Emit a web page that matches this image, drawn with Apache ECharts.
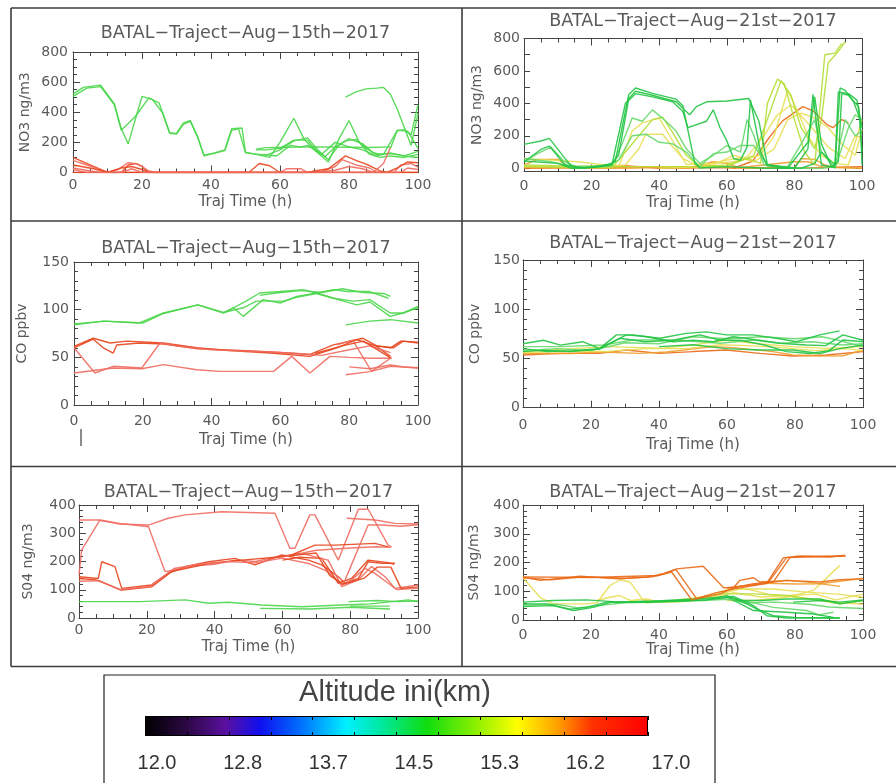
<!DOCTYPE html>
<html>
<head>
<meta charset="utf-8">
<title>BATAL trajectories</title>
<script src="https://cdn.jsdelivr.net/npm/echarts@6/dist/echarts.min.js"></script>
<style>
  html, body { margin: 0; padding: 0; background: #fff; }
  #chart { width: 896px; height: 783px; }
</style>
</head>
<body>
<div id="chart"></div>
<script>
// ---- data: [hour, value] vertices of each back-trajectory ----

// NO3, Aug 15
const no3a_g1 = [[0,520],[3,565],[8,580],[12,455],[14,290],[16,190],[20,505],[23,485],[26,395],[28,265],[30,260],[32,330],[34,345],[36,240],[38,115],[41,130],[44,150],[46,290],[49,295],[50,135],[53,120],[57,100],[60,200],[64,360],[67,220],[70,150],[74,70],[77,220],[80,345],[83,200],[86,120],[89,100],[92,110],[96,100],[100,120]];
const no3a_g2 = [[0,505],[4,560],[8,570],[12,450],[14,280],[18,370],[22,495],[25,460],[28,260],[30,255],[32,320],[34,340],[36,245],[38,110],[44,145],[46,280],[48,290],[50,130],[56,115],[60,150],[64,210],[68,230],[71,150],[74,85],[77,180],[80,225],[84,190],[87,130],[90,120],[94,280],[97,275],[100,160]];
const no3a_g3 = [[53,155],[56,165],[62,168],[70,170],[80,168],[86,166],[92,170]];
const no3a_g4 = [[53,150],[56,150],[60,160],[64,215],[68,215],[70,160],[73,105],[76,170],[79,210],[82,220],[85,160],[88,120],[92,125],[96,110],[100,140]];
const no3a_g5 = [[55,120],[59,110],[63,180],[66,170],[68,180],[72,120],[76,200],[80,170],[84,150],[88,110],[92,130],[96,110],[100,100]];
const no3a_g6 = [[79,500],[82,535],[85,555],[88,560],[90,565],[92,520],[94,420],[96,300],[98,180],[100,390]];
const no3a_g7 = [[92,160],[94,280],[96,285],[98,250],[100,450]];
const no3a_r1 = [[0,100],[3,70],[6,40],[9,10],[11,0],[14,0],[16,50],[18,60],[20,40],[22,0],[51,0],[54,60],[57,45],[60,0],[100,0]];
const no3a_r2 = [[0,80],[4,50],[8,20],[10,0],[13,20],[16,65],[19,55],[22,10],[24,0],[60,0],[62,25],[66,25],[68,0],[72,5],[76,40],[78,85],[82,50],[86,30],[88,0],[93,0],[95,50],[98,60],[100,35]];
const no3a_r3 = [[0,50],[6,25],[10,0],[14,30],[17,40],[20,20],[22,0],[68,0],[70,10],[74,25],[79,110],[82,80],[85,55],[89,10],[91,0],[94,30],[97,70],[100,65]];
const no3a_r4 = [[0,30],[5,10],[8,0],[70,0],[76,15],[80,40],[84,25],[87,0],[90,60],[92,165]];
const no3a_r5 = [[0,0],[100,0]];
const no3a_r6 = [[0,20],[4,0],[14,0],[17,25],[20,0],[95,0],[97,30],[100,20]];

// NO3, Aug 21
const no3b_g1 = [[0,147],[5,168],[7.5,184],[12,64],[14,12],[18,2],[25,23],[27,43],[31,455],[33,495],[38,462],[45,426],[47,385],[50.5,33],[52,2],[60,10],[66,5],[72,0],[80,0],[84,120],[85.5,455],[88,20],[92,5],[93.5,495],[95,480],[97.5,410],[99.5,300],[100,20]];
const no3b_g2 = [[0,40],[5,116],[7.5,137],[12,23],[16,0],[22,10],[26,30],[28,80],[31,430],[33,475],[38,450],[45,410],[47,370],[49,330],[51,380],[54,410],[60,415],[66.5,430],[69.5,290],[72,23],[76,10],[82,0],[86,30],[88,100],[92,20],[93,470],[96,460],[98.5,420],[100,250]];
const no3b_g3 = [[0,45],[10,30],[14,0],[20,5],[26,20],[30,400],[33,460],[38,440],[44,410],[47,350],[48.5,250],[54,290],[56,360],[58,250],[60,170],[62,60],[64,50],[66,130],[67,420],[70,100],[72,15],[78,0],[84,160],[86,440],[88,150],[91,10],[93,40],[94,460],[96,450],[99,380],[100,100]];
const no3b_g4 = [[0,60],[8,40],[14,10],[26,15],[29,150],[32,310],[35,290],[38,360],[42,290],[45,230],[48,120],[52,30],[56,80],[60,140],[64,100],[66,300],[68,200],[71,20],[78,10],[82,150],[86,300],[88,100],[92,0],[96,250],[98,330],[100,300]];
const no3b_g5 = [[0,40],[4,90],[8,130],[12,40],[16,5],[24,10],[28,50],[32,200],[36,210],[40,160],[44,150],[48,100],[52,10],[56,90],[60,100],[64,140],[68,140],[72,20],[80,0],[88,0],[92,10],[95,300],[98,200],[100,230]];
const no3b_yg1 = [[0,10],[14,5],[26,5],[30,100],[34,200],[38,300],[41,315],[44,220],[48,80],[52,10],[60,20],[66,60],[70,30],[72,400],[75,550],[77,520],[80,300],[83,100],[86,20],[89,700],[92,710],[94,770]];
const no3b_yg2 = [[0,20],[20,10],[40,10],[60,10],[68,80],[72,300],[76,540],[79,450],[82,250],[86,120],[88,300],[90,650],[93,720],[95,780]];
const no3b_y1 = [[0,60],[8,50],[16,40],[28,10],[32,230],[35,280],[40,310],[44,168],[48,23],[56,30],[62,40],[70,80],[74,200],[78,480],[81,350],[84,200],[88,80],[92,30],[96,20],[100,300]];
const no3b_y2 = [[0,10],[14,10],[30,20],[34,120],[36,210],[41,210],[43,157],[47,60],[52,10],[60,50],[66,70],[71,200],[75,330],[79,390],[83,300],[86,230],[90,130],[95,60],[98,200],[100,190]];
const no3b_y3 = [[40,0],[55,10],[62,80],[68,40],[74,120],[78,300],[82,340],[86,310],[90,250],[94,150],[98,80],[100,240]];
const no3b_o1 = [[0,20],[4,55],[10,55],[13,10],[20,5],[30,0],[50,10],[56,40],[60,30],[64,0],[80,5],[82,60],[86,55],[89,20],[92,5],[100,0]];
const no3b_o2 = [[62,0],[67.6,43],[72.5,188],[76.5,292],[82.5,380],[85.5,354],[89.5,271],[91.4,250],[94,300],[96,280]];
const no3b_o3 = [[0,0],[20,5],[30,15],[40,0],[60,5],[80,0],[100,10]];
const no3b_o4 = [[0,5],[25,0],[34,10],[48,0],[54,20],[62,0],[80,40],[84,40],[88,10],[100,0]];

// CO, Aug 15
const co15_g1 = [[0,84],[8.5,88],[19,86],[26,96.5],[36,105],[43.5,96.5],[50,109],[54,117.5],[60,119],[66.7,121],[70.5,117.5],[75.4,121],[79.3,119],[86,119],[91.4,112]];
const co15_g2 = [[0,85],[9,88],[20,86],[26,96],[36,105],[43.5,97],[46.3,102],[49.2,93],[55,110.5],[60,107],[64.7,114],[70.5,117.5],[78.3,109],[82.2,105],[86,108],[91.9,93],[95.7,96.5],[100,103.5]];
const co15_g3 = [[43.5,97],[49.2,102],[53,109],[61,109],[64.7,113],[70.5,117],[75.4,112],[81.2,109],[86,110.5],[91.9,96.5],[95.7,96.5],[100,102]];
const co15_g4 = [[79,84],[86,88],[92,89.5],[100,86]];
const co15_g5 = [[54,115],[60,118],[66,120],[72,118],[78,122],[84,118],[90,117],[92,114]];
const co15_r1 = [[0,61.5],[5.6,70],[10.5,65],[15.3,67],[26,65],[35.7,60],[45,57],[57,54.5],[68.6,51],[76.4,60],[82.2,68.5],[88,61.5],[92,51]];
const co15_r2 = [[0,60],[5.6,69],[8.5,60],[11.4,54.5],[12.4,63],[19,65],[26,64],[36,59],[50,57],[60,55],[68.6,53],[75.4,63],[84,70],[88,62],[92.8,60],[95.7,67],[100,65]];
const co15_r3 = [[0,60],[6.1,33.6],[11.4,40.6],[19.7,38.8],[25,65],[30,62],[40,58],[55,56],[65,54],[72,52],[80,58],[86,62],[92,55]];
const co15_r4 = [[0,33.6],[11.4,38.8],[19.7,38],[26,42.3],[35.7,37],[42.4,35.3],[58,35.3],[63.3,51],[68.6,33.6],[74.4,51],[80,50],[86,49],[92,49]];
const co15_r5 = [[79,31.8],[86,35],[92,40.6],[100,38.8]];
const co15_r6 = [[76.4,63],[81,68],[86.5,35.3],[92,49]];
const co15_r7 = [[70,54],[78,62],[84.1,67],[92.3,49]];
const co15_r8 = [[80,40],[86,38],[92,42],[96,40],[100,39]];
const co15_r9 = [[88,62],[92,60],[95,67],[100,66]];

// CO, Aug 21
const co21_g1 = [[0,65],[6,68.5],[11,63.5],[17.6,67],[22.5,60],[27.5,74],[32.4,74],[40.2,70.5],[48,75.5],[53.9,77],[59.8,74],[67.6,74],[74.5,70.5],[80.4,67],[87.3,74],[93.1,78]];
const co21_g2 = [[0,57],[6,58.5],[14,57],[22.5,59.5],[30.4,74],[36.3,72],[44.1,67],[50,68.5],[56,67],[61.8,72],[69.6,68.5],[75.5,65.4],[83.3,63.7],[89,63],[94.1,74],[100,68.5]];
const co21_g3 = [[0,60],[7,57],[15,58],[22.5,60],[28.4,70.5],[36,67],[44,68.5],[52,74],[58,68.5],[64,68.5],[71,63.7],[77.5,57],[84.3,55],[90,58],[94.1,68.7],[100,67]];
const co21_g4 = [[40,62],[50,64],[59.8,60],[69.6,58.6],[79.4,58.6],[87.3,55],[93.1,60],[100,63.7]];
const co21_lg1 = [[0,62],[11,62],[23.5,63.7],[32.4,68.7],[45,68.7],[58,65.4],[67.6,68.7],[75.5,65.4],[85,67],[94,63.7],[100,65]];
const co21_lg2 = [[0,58],[10,60],[20,58],[30,66],[40,65],[50,72],[60,70],[70,72],[80,70],[88,72],[92,69],[100,62]];
const co21_y1 = [[0,57],[15.7,60.3],[25.5,62],[40.2,60.3],[50,63.7],[59.8,68.7],[67.6,65.4],[79.4,62],[89.2,60.3],[100,62]];
const co21_y2 = [[0,56],[12,57],[24,57],[36,60],[48,60],[58,64],[66,63],[76,61],[86,58],[95,60],[100,58]];
const co21_o1 = [[0,53.5],[10.8,55.2],[22.5,55.2],[30.4,58.6],[40.2,55.2],[50,57],[59.8,58.6],[69.6,55.2],[79.4,52.5],[89.2,53.5],[100,57]];
const co21_o2 = [[0,55],[14,55],[22.5,56.5],[34.3,55.2],[42.2,56.5],[55.9,62],[61.8,61],[73.5,57],[79.4,53.5],[87.3,52.5],[94.1,52.8],[100,58.6]];

// SO4, Aug 15
const so15_r1 = [[0,347],[5.7,347],[11.6,333],[20.5,329],[26.3,353],[31.3,365],[42.1,376],[57.8,371],[62.2,247],[63.7,247],[68.1,365],[69.6,365],[76.5,205],[82.4,385],[85.3,385],[91.2,258],[92.2,252]];
const so15_r2 = [[0,146],[5.7,140],[6.7,199],[10.6,182],[12.6,105],[21.4,117],[26.3,158],[31.3,182],[38.2,199],[46,211],[51.9,188],[59.8,223],[67.7,205],[71.6,188],[76.5,146],[78.5,123],[82.4,140],[85.3,199],[89.3,194],[93.2,194]];
const so15_r3 = [[0,152],[0.8,241],[6.2,347],[12,335],[20.5,323],[25.4,164],[28,170],[34,185],[40,190],[46,205],[52,200],[58,215],[62,222],[66,230],[70,240],[80,248],[88,252],[92,250]];
const so15_r4 = [[0,140],[5,135],[12.6,99],[21.4,110],[27.3,164],[38.2,193],[48,205],[59.8,217],[62.7,223],[69.6,258],[75.5,258],[87.3,264],[91.2,252]];
const so15_r5 = [[0,130],[6,132],[12,100],[21,112],[28,175],[35,190],[44,200],[52,195],[60,212],[67.7,193],[73.5,164],[77.5,117],[80.4,135],[84.4,176],[87.3,158],[91.2,123],[93.7,101],[100,105]];
const so15_r6 = [[60,205],[65,215],[71.6,211],[76.5,123],[80.4,140],[85.3,205],[91.2,196],[93,190]];
const so15_r7 = [[61,218],[66,228],[73.5,205],[77.5,111],[82.4,135],[86.3,182],[90.3,146],[93.2,105],[100,117]];
const so15_r8 = [[79,353],[87.3,347],[93.2,335],[100,333]];
const so15_r9 = [[78.5,135],[85.3,329],[89.3,329],[95,325],[100,330]];
const so15_r10 = [[62,220],[70,230],[74,150],[78,120],[84,140],[88,180],[92,180],[95,105],[100,110]];
const so15_g1 = [[0,58],[18,58],[31.3,64],[38.2,52],[44,56],[53.9,46],[65.7,40],[77.5,46],[86,50],[97.1,64],[100,58]];
const so15_g2 = [[53.4,34],[68,32],[80,38],[91.7,32]];
const so15_g3 = [[79.5,58],[88,62],[94,58],[100,60]];
const so15_g4 = [[80,42],[91.7,42]];

// SO4, Aug 21
const so21_o1 = [[0,149],[5,138],[16.8,152],[28.5,143],[36.4,149],[41.3,161],[45.2,178],[53,187],[59,112],[61.9,112],[63.8,138],[67.8,147],[69.7,132],[73.6,132],[78.5,217],[80.5,222],[90.3,219],[94.7,225]];
const so21_o2 = [[0,147],[8,140],[18,150],[30,145],[38,150],[43.7,167],[49.6,70],[58,91],[61.9,112],[67.8,126],[73.6,132],[77.5,138],[87.4,132],[93,140],[100,143]];
const so21_o3 = [[0,150],[20,148],[40,155],[45,175],[51,75],[57,95],[63,110],[71.7,128],[76.6,217],[82,222],[94,222]];
const so21_o4 = [[60,112],[66,120],[72,128],[77.5,217],[86,220],[95,222]];
const so21_o5 = [[70,132],[77.5,138],[85,130],[93.2,117]];
const so21_lo1 = [[71.7,128],[80,125],[87.4,126],[100,145]];
const so21_y1 = [[0,147],[5,79],[8.9,56],[18.7,56],[21.7,60],[25.6,120],[28.5,140],[31.5,132],[35.4,68],[42,62],[49,65],[54,85],[61.9,112],[67,105],[72,90],[80,80],[88,70],[94,60],[100,55]];
const so21_y2 = [[21.7,68],[25.6,79],[28.5,85],[31.5,68],[36.4,73],[40,62],[48,65],[56,80],[62,95],[70,80],[78,85],[86,90],[92,70],[100,90]];
const so21_y3 = [[60,68],[67.8,68],[77.5,79],[85.4,103],[93.2,190]];
const so21_y4 = [[40,62],[56,85],[63.8,108],[73.6,108],[83.4,97],[93.2,89],[100,79]];
const so21_yg1 = [[36,60],[48,68],[58,91],[67.8,91],[77.5,85],[87.4,68],[93.2,56],[100,68]];
const so21_g1 = [[0,62],[8.9,68],[18.7,70],[28.5,62],[38.3,65],[48.1,68],[54,70],[59.9,85],[63.8,68],[70,68],[77.5,73],[87.4,73],[93.2,56],[100,68]];
const so21_g2 = [[0,56],[7,56],[13.8,38],[18.7,44],[24.6,62],[38,65],[50.1,73],[58,79],[61.9,82],[67.8,50],[71.7,15],[77.5,7],[93.2,7]];
const so21_g3 = [[0,47],[8.9,50],[14.8,33],[20.7,44],[26,62],[38,62],[54,70],[60.9,79],[65.8,56],[69.7,33],[73.6,15],[80,9],[93.2,7]];
const so21_g4 = [[60,80],[67.8,33],[77.5,27],[85.4,21],[91.3,9]];
const so21_g5 = [[79.5,62],[87.4,68],[93.2,62],[100,70]];
const so21_lg1 = [[62,75],[73.6,44],[83.4,33],[87,18],[91.3,27]];
const so21_lg2 = [[0,52],[10,55],[16,42],[22,50],[30,60],[40,62],[50,66],[60,72],[66,60],[74,62],[84,55],[90,45],[100,40]];

// titles, axis names, colorbar labels
const panelTitles = ['BATAL−Traject−Aug−15th−2017', 'BATAL−Traject−Aug−21st−2017'];
const yNames = ['NO3 ng/m3', 'CO ppbv', 'S04 ng/m3'];
const xName = 'Traj Time (h)';
const cbarTitle = 'Altitude ini(km)';
const cbarLabels = ['12.0', '12.8', '13.7', '14.5', '15.3', '16.2', '17.0'];

const COL = {
  g15: '#4ad64a', r15: '#e8441c', p15: '#ef6b60',
  g21: '#22c444', lg21: '#66d86a', yg21: '#b4de36', y21: '#e8df55',
  o21: '#f09c2e', or21: '#ea6a18'
};

const panelLines = [
  [[no3a_g1,'g15'],[no3a_g2,'g15'],[no3a_g3,'g15'],[no3a_g4,'g15'],[no3a_g5,'g15'],[no3a_g6,'g15'],[no3a_g7,'g15'],
   [no3a_r1,'r15'],[no3a_r2,'p15'],[no3a_r3,'r15'],[no3a_r4,'p15'],[no3a_r5,'r15'],[no3a_r6,'p15']],
  [[no3b_o3,'or21'],[no3b_o4,'o21'],[no3b_o1,'o21'],[no3b_o2,'or21'],[no3b_y1,'y21'],[no3b_y2,'y21'],[no3b_y3,'y21'],
   [no3b_yg1,'yg21'],[no3b_yg2,'yg21'],[no3b_g4,'lg21'],[no3b_g5,'lg21'],[no3b_g1,'g21'],[no3b_g2,'g21'],[no3b_g3,'g21']],
  [[co15_g1,'g15'],[co15_g2,'g15'],[co15_g3,'g15'],[co15_g4,'g15'],[co15_g5,'g15'],
   [co15_r1,'r15'],[co15_r2,'r15'],[co15_r3,'p15'],[co15_r4,'p15'],[co15_r5,'p15'],[co15_r6,'p15'],[co15_r7,'r15'],[co15_r8,'p15'],[co15_r9,'r15']],
  [[co21_o1,'or21'],[co21_o2,'o21'],[co21_y1,'y21'],[co21_y2,'y21'],[co21_lg1,'lg21'],[co21_lg2,'lg21'],
   [co21_g4,'g21'],[co21_g3,'g21'],[co21_g2,'g21'],[co21_g1,'g21']],
  [[so15_r1,'p15'],[so15_r2,'r15'],[so15_r3,'p15'],[so15_r4,'r15'],[so15_r5,'p15'],[so15_r6,'r15'],[so15_r7,'p15'],[so15_r8,'p15'],[so15_r9,'p15'],[so15_r10,'r15'],
   [so15_g1,'g15'],[so15_g2,'g15'],[so15_g3,'g15'],[so15_g4,'g15']],
  [[so21_y1,'y21'],[so21_y2,'y21'],[so21_y3,'y21'],[so21_y4,'y21'],[so21_yg1,'yg21'],
   [so21_lg1,'lg21'],[so21_lg2,'lg21'],[so21_g1,'g21'],[so21_g2,'g21'],[so21_g3,'g21'],[so21_g4,'g21'],[so21_g5,'g21'],
   [so21_lo1,'o21'],[so21_o5,'o21'],[so21_o1,'or21'],[so21_o2,'or21'],[so21_o3,'or21'],[so21_o4,'or21']]
];

// ---- layout ----
const FONT = 'DejaVu Sans';
const AX = '#444';
const TX = '#5a5a5a';

// grid box, y range and label spacing for each panel
const layout = [
  { l: 73,  t: 52,   w: 345, h: 120.5, ymin: 0,   ymax: 800, yint: 200, ysplit: 4, lm: 5, xm: 5.5,  xg: 21.7, yg: 41, tx: 245.5, ty: 33 },
  { l: 524, t: 38.5, w: 338, h: 133,   ymin: -20, ymax: 800, yint: 200, ysplit: 2, lm: 4, xm: 8,    xg: 24,   yg: 40, tx: 693,   ty: 21.7 },
  { l: 74,  t: 262,  w: 344, h: 143,   ymin: 0,   ymax: 150, yint: 50,  ysplit: 5, lm: 5, xm: 9.7,  xg: 27.5, yg: 45, tx: 246,   ty: 248.3 },
  { l: 523, t: 260,  w: 340, h: 147.7, ymin: 0,   ymax: 150, yint: 50,  ysplit: 5, lm: 3, xm: 10.3, xg: 29.8, yg: 41, tx: 693,   ty: 243.3 },
  { l: 79,  t: 505,  w: 339, h: 113,   ymin: 0,   ymax: 400, yint: 100, ysplit: 5, lm: 3, xm: 5.7,  xg: 21.2, yg: 44, tx: 248.5, ty: 492.3 },
  { l: 523, t: 505,  w: 340, h: 115,   ymin: 0,   ymax: 400, yint: 100, ysplit: 5, lm: 3, xm: 8,    xg: 20.8, yg: 42, tx: 693,   ty: 492 }
];
const cbar = { l: 145, t: 716, w: 503, h: 20 };
const cbarText = { l: 157, t: 736, w: 514 };

const grids = [];
const xAxes = [];
const yAxes = [];
const series = [];
const graphics = [];

function tickStyle(len) {
  return { show: true, inside: true, length: len, lineStyle: { color: AX, width: 1 } };
}

layout.forEach(function (p, i) {
  grids.push({ left: p.l, top: p.t, width: p.w, height: p.h, containLabel: false });

  const xBase = {
    gridIndex: i, type: 'value', min: 0, max: 100, interval: 20,
    axisLine: { onZero: false, lineStyle: { color: AX, width: 1 } },
    axisTick: tickStyle(7),
    minorTick: { show: true, splitNumber: 4, length: 4, lineStyle: { color: AX } },
    splitLine: { show: false }
  };
  xAxes.push(Object.assign({}, xBase, {
    position: 'bottom',
    axisLabel: { margin: p.xm, color: TX, fontSize: 14, fontFamily: FONT },
    name: xName, nameLocation: 'middle', nameGap: p.xg,
    nameTextStyle: { color: TX, fontSize: 15, fontFamily: FONT }
  }));
  xAxes.push(Object.assign({}, xBase, { position: 'top', axisLabel: { show: false } }));

  const yBase = {
    gridIndex: i, type: 'value', min: p.ymin, max: p.ymax,
    axisLine: { onZero: false, lineStyle: { color: AX, width: 1 } },
    splitLine: { show: false }
  };
  const labelCfg = { margin: p.lm, color: TX, fontSize: 14, fontFamily: FONT };
  if (p.ymin !== 0) {
    // axis starts below zero: place ticks and labels explicitly
    const major = [], minor = [];
    for (let v = 0; v <= p.ymax; v += p.yint) major.push(v);
    for (let v = 0; v <= p.ymax; v += p.yint / p.ysplit) minor.push(v);
    yBase.axisTick = Object.assign(tickStyle(6), { customValues: minor });
    yBase.minorTick = { show: false };
    labelCfg.customValues = major;
  } else {
    yBase.interval = p.yint;
    yBase.axisTick = tickStyle(7);
    yBase.minorTick = { show: true, splitNumber: p.ysplit, length: 4, lineStyle: { color: AX } };
  }

  yAxes.push(Object.assign({}, yBase, {
    position: 'left',
    axisLabel: labelCfg,
    name: yNames[Math.floor(i / 2)], nameLocation: 'middle', nameGap: p.yg, nameRotate: 90,
    nameTextStyle: { color: TX, fontSize: 14, fontFamily: FONT }
  }));
  yAxes.push(Object.assign({}, yBase, { position: 'right', axisLabel: { show: false } }));

  panelLines[i].forEach(function (ln) {
    series.push({
      type: 'line', xAxisIndex: i * 2, yAxisIndex: i * 2,
      data: ln[0], symbol: 'none', silent: true, clip: true,
      lineStyle: { color: COL[ln[1]], width: 1.4, opacity: 0.9 }
    });
  });

  graphics.push({
    type: 'text', x: p.tx, y: p.ty, silent: true,
    style: { text: panelTitles[i % 2], fill: TX, font: '17.5px "' + FONT + '"', align: 'center', verticalAlign: 'middle' }
  });
});

// colour bar: one bar spanning the altitude scale, ticks drawn by two axes
grids.push({ left: cbar.l, top: cbar.t, width: cbar.w, height: cbar.h });
const cbIdx = grids.length - 1;
const cbX = {
  gridIndex: cbIdx, type: 'value', min: 0, max: 12, interval: 1, z: 10,
  axisLine: { show: false }, splitLine: { show: false }, axisLabel: { show: false },
  axisTick: { show: true, inside: true, length: 4, lineStyle: { color: '#000' } }
};
xAxes.push(Object.assign({ position: 'bottom' }, cbX));
xAxes.push(Object.assign({ position: 'top' }, cbX));
yAxes.push({ gridIndex: cbIdx, type: 'category', data: ['alt'], show: false });
series.push({
  type: 'bar', xAxisIndex: xAxes.length - 2, yAxisIndex: yAxes.length - 1,
  data: [12], barWidth: '100%', silent: true,
  itemStyle: {
    borderColor: '#000', borderWidth: 1,
    color: new echarts.graphic.LinearGradient(0, 0, 1, 0, [
      { offset: 0, color: '#000000' }, { offset: 0.08, color: '#2a0840' },
      { offset: 0.16, color: '#5a10a0' }, { offset: 0.23, color: '#1010f0' },
      { offset: 0.31, color: '#0070ff' }, { offset: 0.40, color: '#00f0ff' },
      { offset: 0.47, color: '#00e8a0' }, { offset: 0.56, color: '#10dd10' },
      { offset: 0.66, color: '#90f000' }, { offset: 0.74, color: '#ffff00' },
      { offset: 0.82, color: '#ffa000' }, { offset: 0.89, color: '#ff3000' },
      { offset: 1, color: '#ff0000' }
    ])
  }
});

// colour bar labels
grids.push({ left: cbarText.l, top: cbarText.t, width: cbarText.w, height: 1 });
const cbtIdx = grids.length - 1;
xAxes.push({
  gridIndex: cbtIdx, type: 'value', min: 0, max: cbarLabels.length - 1, interval: 1,
  axisLine: { show: false }, axisTick: { show: false }, splitLine: { show: false },
  axisLabel: {
    margin: 16, color: '#333', fontSize: 20, fontFamily: 'Liberation Sans',
    formatter: function (v) { return cbarLabels[v]; }
  }
});
yAxes.push({ gridIndex: cbtIdx, type: 'value', show: false });

// panel frames, colour-bar box and captions
const frame = { stroke: '#3c3c3c', lineWidth: 1.6 };
[[11, 8, 896, 8], [11, 221, 896, 221], [11, 466.5, 896, 466.5], [11, 666.5, 896, 666.5],
 [11, 8, 11, 666.5], [462, 8, 462, 666.5]].forEach(function (s) {
  graphics.push({ type: 'line', silent: true, shape: { x1: s[0], y1: s[1], x2: s[2], y2: s[3] }, style: frame });
});
graphics.push({ type: 'rect', silent: true, shape: { x: 104, y: 675, width: 611, height: 120 }, style: { fill: 'none', stroke: '#222', lineWidth: 1.2 } });
graphics.push({
  type: 'text', x: 395, y: 693, silent: true,
  style: { text: cbarTitle, fill: '#444', font: '29px "Liberation Sans"', align: 'center', verticalAlign: 'middle' }
});
graphics.push({ type: 'line', silent: true, shape: { x1: 81, y1: 429, x2: 81, y2: 446 }, style: { stroke: '#666', lineWidth: 1.5 } });

const chart = echarts.init(document.getElementById('chart'), null, { renderer: 'canvas' });
chart.setOption({
  backgroundColor: '#fff',
  animation: false,
  grid: grids,
  xAxis: xAxes,
  yAxis: yAxes,
  series: series,
  graphic: { elements: graphics }
});
</script>
</body>
</html>
